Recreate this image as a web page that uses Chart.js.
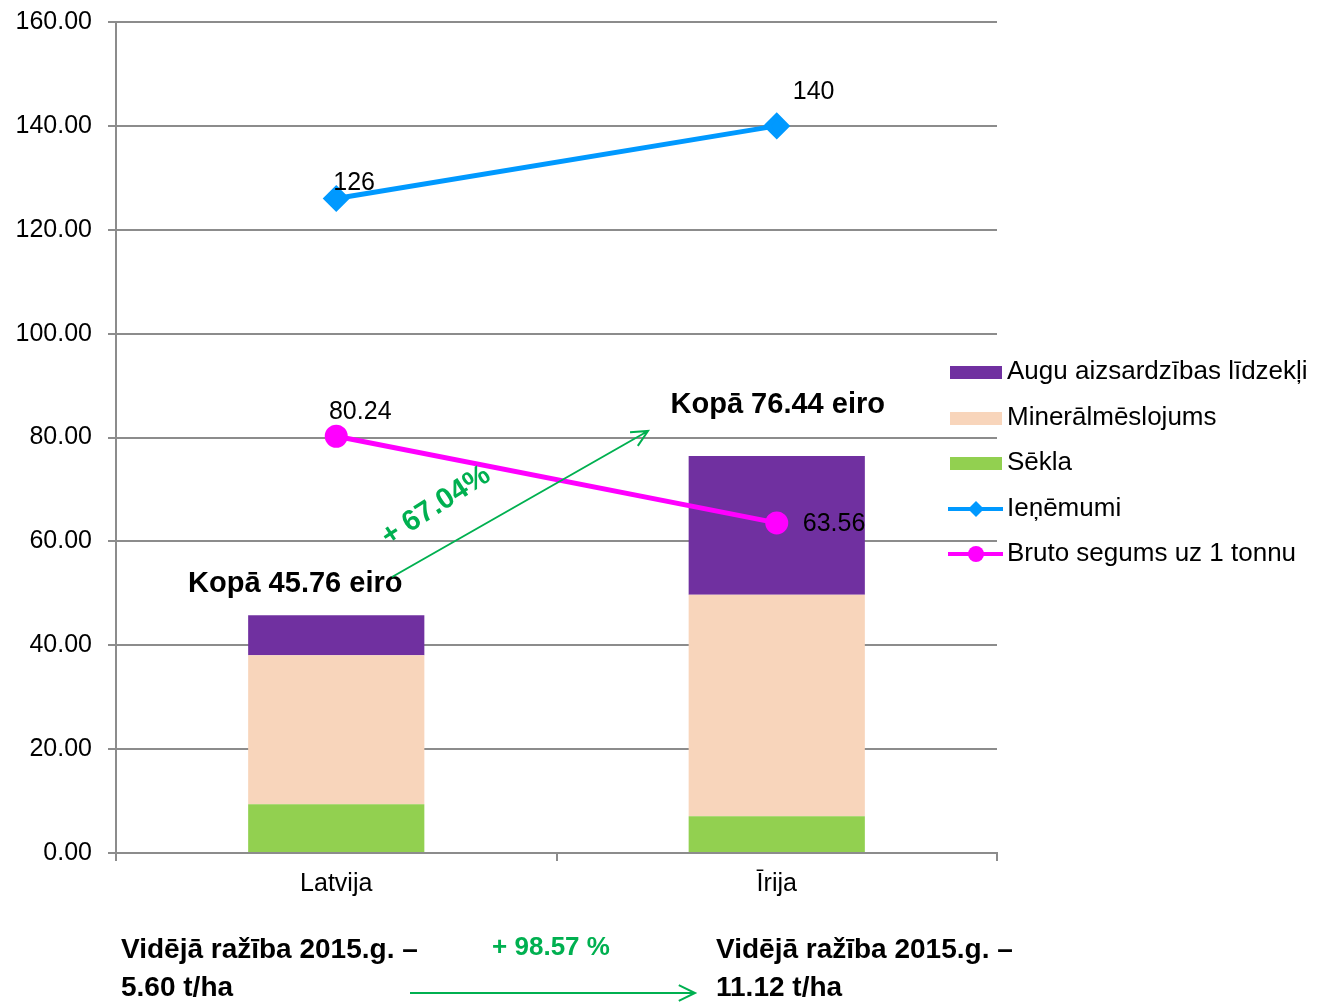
<!DOCTYPE html>
<html lang="lv">
<head>
<meta charset="UTF-8">
<title>Izmaksas un bruto segums</title>
<style>
  html, body { margin: 0; padding: 0; background: #fff; }
  #wrap { width: 1318px; height: 1002px; position: relative; }
</style>
</head>
<body>
<div id="wrap">
  <canvas id="myChart" width="1318" height="1002"></canvas>
</div>
<script src="https://cdn.jsdelivr.net/npm/chart.js@4.4.1/dist/chart.umd.min.js"></script>
<script>
// dati
var valstis = ["Latvija", "Īrija"];
var sekla = [9.38, 7.07];
var mineralmeslojums = [28.68, 42.66];
var auguAizsardziba = [7.70, 26.71];
var ienemumi = [126, 140];
var brutoSegums = [80.24, 63.56];
var ienemumiTeksti = ["126", "140"];
var brutoTeksti = ["80.24", "63.56"];
var kopaTeksti = ["Kopā 45.76 eiro", "Kopā 76.44 eiro"];
var videjaRaziba = ["5.60 t/ha", "11.12 t/ha"];

var fonts = "'Liberation Sans', Arial, sans-serif";
Chart.defaults.font.family = fonts;
Chart.defaults.color = '#000';

var krasas = {
    augu: '#7030A0',
    mineral: '#F8D5BB',
    sekla: '#92D050',
    ien: '#0099FF',
    bruto: '#FF00FF',
    zals: '#00B050',
    rezgis: '#8c8c8c'
};

function bulta(ctx, x1, y1, x2, y2, garums) {
    var a = Math.atan2(y2 - y1, x2 - x1);
    ctx.beginPath();
    ctx.moveTo(x1, y1);
    ctx.lineTo(x2, y2);
    ctx.moveTo(x2 - garums * Math.cos(a - 0.45), y2 - garums * Math.sin(a - 0.45));
    ctx.lineTo(x2, y2);
    ctx.lineTo(x2 - garums * Math.cos(a + 0.45), y2 - garums * Math.sin(a + 0.45));
    ctx.stroke();
}

// vertību uzraksti pie līnijām
var uzraksti = {
    id: 'uzraksti',
    afterDatasetsDraw: function(chart) {
        var ctx = chart.ctx;
        ctx.save();
        ctx.font = '25px ' + fonts;
        ctx.fillStyle = '#000';
        ctx.textBaseline = 'middle';
        var m1 = chart.getDatasetMeta(3).data;
        ctx.textAlign = 'left';
        ctx.fillText(ienemumiTeksti[0], m1[0].x - 3, m1[0].y - 15);
        ctx.fillText(ienemumiTeksti[1], m1[1].x + 16, m1[1].y - 34);
        var m2 = chart.getDatasetMeta(4).data;
        ctx.textAlign = 'center';
        ctx.fillText(brutoTeksti[0], m2[0].x + 24, m2[0].y - 24);
        ctx.textAlign = 'left';
        ctx.fillText(brutoTeksti[1], m2[1].x + 26, m2[1].y + 1);

        // kopsummas
        var x = chart.scales.x, y = chart.scales.y;
        ctx.font = 'bold 29px ' + fonts;
        ctx.textAlign = 'center';
        var k0 = sekla[0] + mineralmeslojums[0] + auguAizsardziba[0];
        var k1 = sekla[1] + mineralmeslojums[1] + auguAizsardziba[1];
        ctx.fillText(kopaTeksti[0], x.getPixelForValue(0) - 41, y.getPixelForValue(k0) - 31);
        ctx.fillText(kopaTeksti[1], x.getPixelForValue(1) + 1, y.getPixelForValue(k1) - 51);

        // bulta un procenti
        ctx.strokeStyle = krasas.zals;
        ctx.lineWidth = 2;
        bulta(ctx, 392, 577, 648, 431, 18);
        ctx.save();
        ctx.translate(436, 506);
        ctx.rotate(-33 * Math.PI / 180);
        ctx.fillStyle = krasas.zals;
        ctx.font = 'bold 29px ' + fonts;
        ctx.textAlign = 'center';
        ctx.fillText('+ 67.04%', 0, 0);
        ctx.restore();

        // apakšējie teksti
        ctx.font = "bold 28px " + fonts;
        ctx.fillStyle = '#000';
        ctx.textAlign = 'left';
        ctx.fillText('Vidējā ražība 2015.g. –', 121, 950);
        ctx.fillText(videjaRaziba[0], 121, 988);
        ctx.fillText('Vidējā ražība 2015.g. –', 716, 950);
        ctx.fillText(videjaRaziba[1], 716, 988);
        ctx.fillStyle = krasas.zals;
        ctx.font = "bold 26px " + fonts;
        ctx.textAlign = 'center';
        ctx.fillText('+ 98.57 %', 551, 948);
        bulta(ctx, 410, 993, 695, 993, 18);
        ctx.restore();
    },
    afterDraw: function(chart) {
        // leģenda
        var ctx = chart.ctx;
        ctx.save();
        ctx.font = '26px ' + fonts;
        ctx.textBaseline = 'middle';
        ctx.textAlign = 'left';
        var ieraksti = [
            { t: 'Augu aizsardzības līdzekļi', c: krasas.augu, veids: 'box' },
            { t: 'Minerālmēslojums', c: krasas.mineral, veids: 'box' },
            { t: 'Sēkla', c: krasas.sekla, veids: 'box' },
            { t: 'Ieņēmumi', c: krasas.ien, veids: 'rombs' },
            { t: 'Bruto segums uz 1 tonnu', c: krasas.bruto, veids: 'aplis' }
        ];
        var yy = [372, 418, 463, 509, 554];
        ieraksti.forEach(function(e, i) {
            var y = yy[i];
            ctx.fillStyle = e.c;
            ctx.strokeStyle = e.c;
            if (e.veids === 'box') {
                ctx.fillRect(950, y - 6, 52, 13);
            } else {
                ctx.lineWidth = 4;
                ctx.beginPath();
                ctx.moveTo(948, y);
                ctx.lineTo(1003, y);
                ctx.stroke();
                ctx.beginPath();
                if (e.veids === 'rombs') {
                    ctx.moveTo(976, y - 8);
                    ctx.lineTo(984, y);
                    ctx.lineTo(976, y + 8);
                    ctx.lineTo(968, y);
                    ctx.closePath();
                } else {
                    ctx.arc(976, y, 8, 0, Math.PI * 2);
                }
                ctx.fill();
            }
            ctx.fillStyle = '#000';
            ctx.fillText(e.t, 1007, y);
        });
        ctx.restore();
    }
};

var ctx = document.getElementById('myChart').getContext('2d');
var myChart = new Chart(ctx, {
    type: 'bar',
    data: {
        labels: valstis,
        datasets: [
            { label: 'Sēkla', data: sekla, backgroundColor: krasas.sekla, stack: 'izmaksas', order: 2,
              barPercentage: 0.4, categoryPercentage: 1.0 },
            { label: 'Minerālmēslojums', data: mineralmeslojums, backgroundColor: krasas.mineral, stack: 'izmaksas', order: 2,
              barPercentage: 0.4, categoryPercentage: 1.0 },
            { label: 'Augu aizsardzības līdzekļi', data: auguAizsardziba, backgroundColor: krasas.augu, stack: 'izmaksas', order: 2,
              barPercentage: 0.4, categoryPercentage: 1.0 },
            { type: 'line', label: 'Ieņēmumi', data: ienemumi, stack: 'ien', order: 1,
              borderColor: krasas.ien, backgroundColor: krasas.ien, borderWidth: 5,
              pointStyle: 'rectRot', pointRadius: 10, pointHoverRadius: 10 },
            { type: 'line', label: 'Bruto segums uz 1 tonnu', data: brutoSegums, stack: 'bruto', order: 0,
              borderColor: krasas.bruto, backgroundColor: krasas.bruto, borderWidth: 5,
              pointStyle: 'circle', pointRadius: 9, pointHoverRadius: 9 }
        ]
    },
    options: {
        responsive: false,
        animation: false,
        layout: { padding: { left: 0, right: 321, top: 22, bottom: 0 } },
        plugins: {
            legend: { display: false },
            tooltip: { enabled: false }
        },
        scales: {
            x: {
                stacked: true,
                afterFit: function(s) { s.height = 149; },
                grid: { offset: true, drawOnChartArea: false, tickLength: 8, color: krasas.rezgis, lineWidth: 2 },
                border: { color: krasas.rezgis, width: 2 },
                ticks: { font: { size: 25 }, padding: 8, color: '#000' }
            },
            y: {
                stacked: true,
                min: 0,
                max: 160,
                afterFit: function(s) {
                    s.width = 116;
                    s.paddingTop = 0;
                    s.paddingBottom = 0;
                },
                grid: { color: krasas.rezgis, lineWidth: 2, tickLength: 8 },
                border: { color: krasas.rezgis, width: 2 },
                ticks: { stepSize: 20, font: { size: 25 }, padding: 16, color: '#000',
                         callback: function(v) { return v.toFixed(2); } }
            }
        }
    },
    plugins: [uzraksti]
});
</script>
</body>
</html>
